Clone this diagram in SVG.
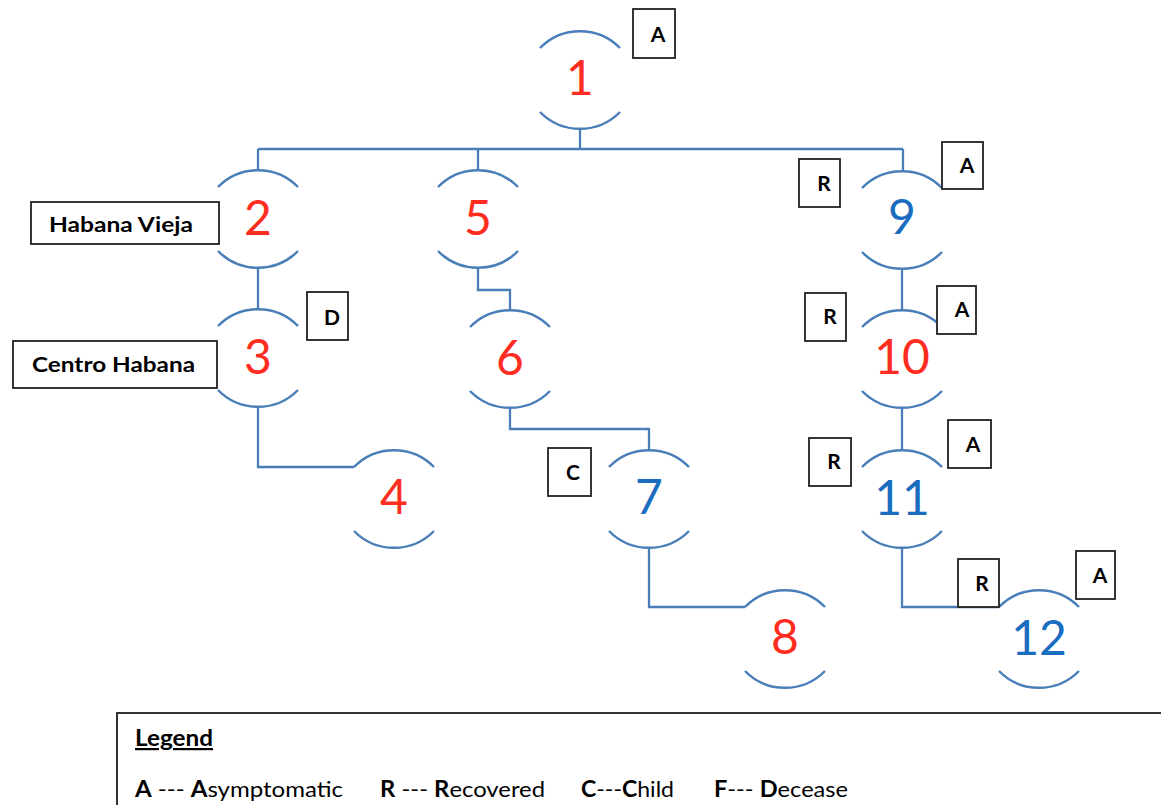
<svg xmlns="http://www.w3.org/2000/svg" width="1161" height="805" viewBox="0 0 1161 805">
<style>
.arc{fill:none;stroke:#4a7eb8;stroke-width:2.5}
.con{fill:none;stroke:#4a7eb8;stroke-width:2.3}
.num{font-family:Lato,"Open Sans",sans-serif;font-size:48px;text-anchor:middle}
.red{fill:#ff2d1f}
.blue{fill:#1a6cbf}
.box{fill:#fff;stroke:#222;stroke-width:1.8}
.lbl{font-family:Lato,"Open Sans",sans-serif;font-weight:bold;font-size:21px;text-anchor:middle;fill:#000}
.loc{font-family:Lato,"Open Sans",sans-serif;font-weight:bold;font-size:21px;fill:#000}
.leg{font-family:Lato,"Open Sans",sans-serif;font-size:22px;fill:#000}
</style>
<rect width="1161" height="805" fill="#fff"/>
<g id="connectors">
<path class="con" d="M580,129 V149 M258,149 H903 M258,149 V170 M478,149 V170 M903,149 V171"/>
<path class="con" d="M258,269 V309"/>
<path class="con" d="M258,407 V467 H354"/>
<path class="con" d="M478,268 V290 H510 V310"/>
<path class="con" d="M510,408 V429 H649 V450"/>
<path class="con" d="M649,548 V607 H745"/>
<path class="con" d="M902,269 V310"/>
<path class="con" d="M902,408 V450"/>
<path class="con" d="M902,548 V607 H999"/>
</g>
<g id="node1"><path class="arc" d="M540,48 A56,56 0 0 1 620,48 M540,112 A56,56 0 0 0 620,112"/><text class="num red" x="580" y="95">1</text></g>
<g id="node2"><path class="arc" d="M218,187 A56,56 0 0 1 298,187 M218,251 A56,56 0 0 0 298,251"/><text class="num red" x="258" y="235">2</text></g>
<g id="node3"><path class="arc" d="M218,326 A56,56 0 0 1 298,326 M218,390 A56,56 0 0 0 298,390"/><text class="num red" x="258" y="374">3</text></g>
<g id="node4"><path class="arc" d="M354,467 A56,56 0 0 1 434,467 M354,531 A56,56 0 0 0 434,531"/><text class="num red" x="394" y="514">4</text></g>
<g id="node5"><path class="arc" d="M438,187 A56,56 0 0 1 518,187 M438,251 A56,56 0 0 0 518,251"/><text class="num red" x="478" y="235">5</text></g>
<g id="node6"><path class="arc" d="M470,327 A56,56 0 0 1 550,327 M470,391 A56,56 0 0 0 550,391"/><text class="num red" x="510" y="375">6</text></g>
<g id="node7"><path class="arc" d="M609,467 A56,56 0 0 1 689,467 M609,531 A56,56 0 0 0 689,531"/><text class="num blue" x="649" y="514">7</text></g>
<g id="node8"><path class="arc" d="M745,607 A56,56 0 0 1 825,607 M745,671 A56,56 0 0 0 825,671"/><text class="num red" x="785" y="654">8</text></g>
<g id="node9"><path class="arc" d="M862,188 A56,56 0 0 1 942,188 M862,252 A56,56 0 0 0 942,252"/><text class="num blue" x="902" y="234">9</text></g>
<g id="node10"><path class="arc" d="M862,327 A56,56 0 0 1 942,327 M862,391 A56,56 0 0 0 942,391"/><text class="num red" x="902" y="374">10</text></g>
<g id="node11"><path class="arc" d="M862,467 A56,56 0 0 1 942,467 M862,531 A56,56 0 0 0 942,531"/><text class="num blue" x="902" y="515">11</text></g>
<g id="node12"><path class="arc" d="M999,607 A56,56 0 0 1 1079,607 M999,671 A56,56 0 0 0 1079,671"/><text class="num blue" x="1039" y="655">12</text></g>
<g id="label-A1"><rect class="box" x="633" y="9" width="42" height="49"/><text class="lbl" x="658" y="42">A</text></g>
<g id="label-HabanaVieja"><rect class="box" x="31" y="202" width="188" height="42"/><text class="loc" x="49" y="232" textLength="144" lengthAdjust="spacingAndGlyphs">Habana Vieja</text></g>
<g id="label-D3"><rect class="box" x="307" y="292" width="41" height="48"/><text class="lbl" x="332" y="325">D</text></g>
<g id="label-CentroHabana"><rect class="box" x="13" y="341" width="204" height="47"/><text class="loc" x="32" y="372" textLength="163" lengthAdjust="spacingAndGlyphs">Centro Habana</text></g>
<g id="label-C7"><rect class="box" x="548" y="448" width="43" height="48"/><text class="lbl" x="573" y="480">C</text></g>
<g id="label-R9"><rect class="box" x="799" y="159" width="41" height="48"/><text class="lbl" x="824" y="191">R</text></g>
<g id="label-A9"><rect class="box" x="942" y="142" width="41" height="47"/><text class="lbl" x="967" y="173">A</text></g>
<g id="label-R10"><rect class="box" x="805" y="293" width="41" height="48"/><text class="lbl" x="830" y="324">R</text></g>
<g id="label-A10"><rect class="box" x="937" y="286" width="39" height="48"/><text class="lbl" x="962" y="317">A</text></g>
<g id="label-R11"><rect class="box" x="809" y="438" width="42" height="48"/><text class="lbl" x="834" y="469">R</text></g>
<g id="label-A11"><rect class="box" x="948" y="420" width="43" height="48"/><text class="lbl" x="973" y="452">A</text></g>
<g id="label-R12"><rect class="box" x="958" y="559" width="41" height="48"/><text class="lbl" x="982" y="591">R</text></g>
<g id="label-A12"><rect class="box" x="1076" y="551" width="39" height="48"/><text class="lbl" x="1100" y="583">A</text></g>
<g id="legend">
<rect x="117" y="713" width="1060" height="110" fill="#fff" stroke="#333" stroke-width="2"/>
<text class="leg" x="135" y="746" font-weight="bold" text-decoration="underline" textLength="78" lengthAdjust="spacingAndGlyphs">Legend</text>
<text class="leg" x="135" y="797" textLength="208" lengthAdjust="spacingAndGlyphs"><tspan font-weight="bold">A</tspan> --- <tspan font-weight="bold">A</tspan>symptomatic</text>
<text class="leg" x="380" y="797" textLength="165" lengthAdjust="spacingAndGlyphs"><tspan font-weight="bold">R</tspan> --- <tspan font-weight="bold">R</tspan>ecovered</text>
<text class="leg" x="581" y="797" textLength="93" lengthAdjust="spacingAndGlyphs"><tspan font-weight="bold">C</tspan>---<tspan font-weight="bold">C</tspan>hild</text>
<text class="leg" x="714" y="797" textLength="134" lengthAdjust="spacingAndGlyphs"><tspan font-weight="bold">F</tspan>--- <tspan font-weight="bold">D</tspan>ecease</text>
</g>
</svg>
